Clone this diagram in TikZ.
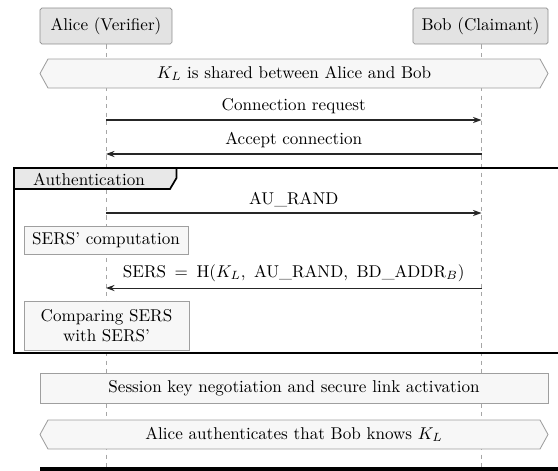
\documentclass[tikz,border=0pt]{standalone}
\usetikzlibrary{arrows.meta,calc}
\begin{document}
\begin{tikzpicture}[x=0.585pt,y=-0.585pt,
  actor/.style={draw=gray!90,fill=gray!22,rounded corners=1pt,minimum height=21pt,inner sep=0pt},
  lifeline/.style={draw=gray!70,dashed,dash pattern=on 2.5pt off 2.5pt,line width=0.5pt},
  banner/.style={draw=gray!75,fill=gray!6,line width=0.5pt},
  actbox/.style={draw=gray!75,fill=gray!6,line width=0.5pt,inner sep=0pt},
  msg/.style={draw=black!85,line width=0.6pt,-{Stealth[length=5pt,width=3.6pt]}},
  frameline/.style={draw=black,line width=1pt},
  lbl/.style={inner sep=0pt}]
\useasboundingbox (0,0) rectangle (558,470);
% actors
\node[actor,minimum width=77.2pt] (alice) at (106,26) {Alice (Verifier)};
\node[actor,minimum width=79pt] (bob) at (480.5,26) {Bob (Claimant)};
% lifelines
\coordinate (aend) at (106,472);
\coordinate (bend) at (481.5,472);
\draw[lifeline] (alice.south) -- (aend);
\draw[lifeline] ($(bob.south)+(1,0)$) -- (bend);
% shared banner
\draw[banner] (40,73.5) -- (48,59) -- (540,59) -- (548,73.5) -- (540,88) -- (48,88) -- cycle;
\node[lbl] (shared) at (294,73.5) {$K_L$ is shared between Alice and Bob};
% messages
\coordinate (m1a) at (106,120); \coordinate (m1b) at (481.5,120);
\draw[msg] (m1a) -- node[lbl,above=3.5pt] (creq) {Connection request} (m1b);
\coordinate (m2a) at (106,154); \coordinate (m2b) at (481.5,154);
\draw[msg] (m2b) -- node[lbl,above=3.5pt] (acc) {Accept connection} (m2a);
% frame
\draw[frameline] (14,168) rectangle (562,353);
\draw[frameline,fill=gray!18] (14,168) -- (176.5,168) -- (176.5,178) -- (170,189) -- (14,189) -- cycle;
\node[lbl] (auth) at (89,179) {Authentication};
\coordinate (m3a) at (106,213); \coordinate (m3b) at (481.5,213);
\draw[msg] (m3a) -- node[lbl,above=3.5pt] (aurand) {AU\_RAND} (m3b);
\node[actbox,minimum width=96pt,minimum height=16.4pt] (sersc) at (106,240) {SERS' computation};
\coordinate (m4a) at (106,288); \coordinate (m4b) at (481.5,288);
\draw[msg] (m4b) -- node[lbl,above=3.5pt] (sers) {SERS \,=\, H($K_L$,\, AU\_RAND,\, BD\_ADDR$_B$)} (m4a);
\node[actbox,minimum width=96.5pt,minimum height=28.7pt,align=center] (cmp) at (106.5,325.5) {Comparing SERS\\with SERS'};
% session
\node[actbox,minimum width=297.2pt,minimum height=17.6pt] (sess) at (294,388) {Session key negotiation and secure link activation};
% final banner
\draw[banner] (40,434.5) -- (48,420) -- (540,420) -- (548,434.5) -- (540,449) -- (48,449) -- cycle;
\node[lbl] (final) at (294,434.5) {Alice authenticates that Bob knows $K_L$};
% bottom bar
\fill[black] (40,467) rectangle (562,474);
\end{tikzpicture}
\end{document}
